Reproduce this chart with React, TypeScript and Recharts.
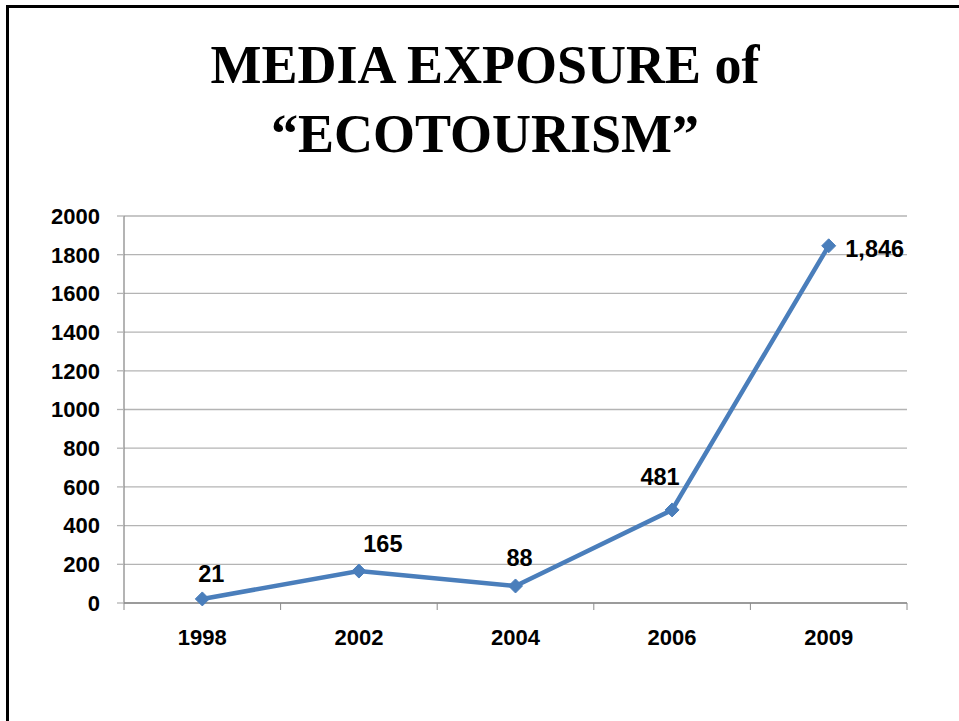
import { LineChart, Line, XAxis, YAxis, CartesianGrid, LabelList } from 'recharts';

const YEARS = ['1998', '2002', '2004', '2006', '2009'];
const EXPOSURE = [21, 165, 88, 481, 1846];
const Y_TICKS = [0, 200, 400, 600, 800, 1000, 1200, 1400, 1600, 1800, 2000];

// where each value label sits relative to its point (dx, dy of the text centre)
const LABEL_NUDGE = [
    [9, -25],
    [24, -28],
    [4, -28],
    [-12, -33],
    [46, 3],
];

const data = YEARS.map((year, i) => ({ year, pos: i + 0.5, value: EXPOSURE[i] }));
const xTicks = Array.from({ length: YEARS.length * 2 + 1 }, (_, i) => i / 2);

const FONT = 'Arial, "Liberation Sans", sans-serif';
const AXIS = '#8c8c8c';
const GRID = '#b4b4b4';
const BLUE = '#4a7ebb';

function XTick(props: any) {
    const { x, y, payload } = props;
    const v = payload.value;
    if (Number.isInteger(v)) {
        return <line x1={x} x2={x} y1={y} y2={y + 7} stroke={AXIS} strokeWidth={1} />;
    }
    return (
        <text x={x} y={y + 42} textAnchor="middle" fontFamily={FONT} fontWeight="bold" fontSize={22} fill="#000">
            {YEARS[Math.floor(v)]}
        </text>
    );
}

function Diamond(props: any) {
    const { cx, cy } = props;
    if (cx == null || cy == null) return null;
    const r = 7;
    return <path d={`M${cx},${cy - r}L${cx + r},${cy}L${cx},${cy + r}L${cx - r},${cy}Z`} fill={BLUE} stroke={BLUE} />;
}

function ValueLabel(props: any) {
    const { x, y, index, value } = props;
    const [dx, dy] = LABEL_NUDGE[index];
    return (
        <text x={x + dx} y={y + dy} dy="0.36em" textAnchor="middle" fontFamily={FONT} fontWeight="bold" fontSize={23.5} fill="#000">
            {value.toLocaleString('en-US')}
        </text>
    );
}

const titleStyle: React.CSSProperties = {
    position: 'absolute',
    left: 0,
    width: 970,
    textAlign: 'center',
    fontFamily: '"Liberation Serif", "Times New Roman", serif',
    fontWeight: 'bold',
    fontSize: 54,
    lineHeight: '54px',
    whiteSpace: 'nowrap',
};

export default function App() {
    return (
        <div style={{ position: 'absolute', left: 0, top: 0, width: 959, height: 721, overflow: 'hidden', background: '#fff' }}>
            <div
                style={{
                    position: 'absolute',
                    left: 6,
                    top: 5,
                    width: 980,
                    height: 740,
                    borderTop: '3px solid #000',
                    borderLeft: '3px solid #000',
                }}
            />
            <div style={{ ...titleStyle, top: 38 }}>MEDIA EXPOSURE of</div>
            <div style={{ ...titleStyle, top: 107 }}>“ECOTOURISM”</div>
            <div style={{ position: 'absolute', left: 0, top: 0 }}>
                <LineChart width={959} height={721} data={data} margin={{ top: 216, right: 52, bottom: 58, left: 44 }}>
                    <CartesianGrid vertical={false} stroke={GRID} strokeWidth={1.3} />
                    <XAxis
                        dataKey="pos"
                        type="number"
                        domain={[0, YEARS.length]}
                        ticks={xTicks}
                        interval={0}
                        tickLine={false}
                        tickSize={0}
                        tickMargin={0}
                        height={60}
                        axisLine={{ stroke: AXIS, strokeWidth: 1.3 }}
                        tick={<XTick />}
                    />
                    <YAxis
                        domain={[0, 2000]}
                        ticks={Y_TICKS}
                        interval={0}
                        width={80}
                        tickSize={7}
                        tickMargin={17}
                        axisLine={{ stroke: AXIS, strokeWidth: 1.3 }}
                        tickLine={{ stroke: GRID, strokeWidth: 1.3 }}
                        tick={{ fill: '#000', fontFamily: FONT, fontWeight: 'bold', fontSize: 22 }}
                    />
                    <Line
                        dataKey="value"
                        stroke={BLUE}
                        strokeWidth={4.5}
                        dot={<Diamond />}
                        activeDot={false}
                        isAnimationActive={false}
                    >
                        <LabelList dataKey="value" content={<ValueLabel />} />
                    </Line>
                </LineChart>
            </div>
        </div>
    );
}
